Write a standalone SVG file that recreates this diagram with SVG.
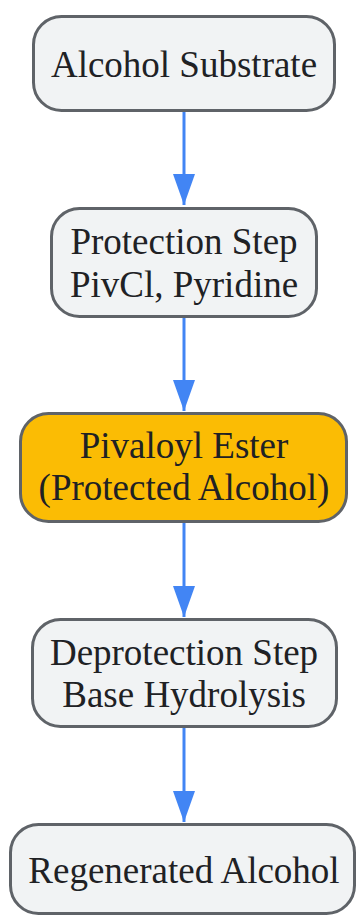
<svg xmlns="http://www.w3.org/2000/svg" width="357" height="916" viewBox="0 0 357 916">
<style>
.n{fill:#f1f3f4;stroke:#5f6368;stroke-width:3}
.h{fill:#fbbc04;stroke:#5f6368;stroke-width:3}
.t{font-family:"Liberation Serif","Times New Roman",serif;font-size:37px;fill:#202124;text-anchor:middle}
.e{stroke:#4285f4;stroke-width:3;fill:none}
</style>
<defs>
<marker id="ah" markerUnits="userSpaceOnUse" markerWidth="31" markerHeight="22" refX="31" refY="11" orient="auto" viewBox="0 0 31 22">
<path d="M0,0 L31,11 L0,22 Z" fill="#4285f4"/>
</marker>
</defs>
<rect width="357" height="916" fill="#ffffff"/>
<g id="edges">
<line class="e" x1="184" y1="112" x2="184" y2="205" marker-end="url(#ah)"/>
<line class="e" x1="184" y1="318" x2="184" y2="411" marker-end="url(#ah)"/>
<line class="e" x1="184" y1="523" x2="184" y2="617" marker-end="url(#ah)"/>
<line class="e" x1="184" y1="728" x2="184" y2="822" marker-end="url(#ah)"/>
</g>
<g id="n1">
<rect class="n" x="33.5" y="16.5" width="301" height="94" rx="28"/>
<text class="t" x="184" y="77">Alcohol Substrate</text>
</g>
<g id="n2">
<rect class="n" x="51.5" y="208.5" width="265" height="108" rx="28"/>
<text class="t" x="184" y="254">Protection Step</text>
<text class="t" x="184" y="297">PivCl, Pyridine</text>
</g>
<g id="n3">
<rect class="h" x="20.5" y="413.5" width="326" height="108" rx="28"/>
<text class="t" x="184" y="458">Pivaloyl Ester</text>
<text class="t" x="184" y="500">(Protected Alcohol)</text>
</g>
<g id="n4">
<rect class="n" x="32.5" y="619.5" width="304" height="107" rx="28"/>
<text class="t" x="184" y="665">Deprotection Step</text>
<text class="t" x="184" y="707">Base Hydrolysis</text>
</g>
<g id="n5">
<rect class="n" x="10.5" y="824.5" width="344" height="89" rx="28"/>
<text class="t" x="184" y="883">Regenerated Alcohol</text>
</g>
</svg>
